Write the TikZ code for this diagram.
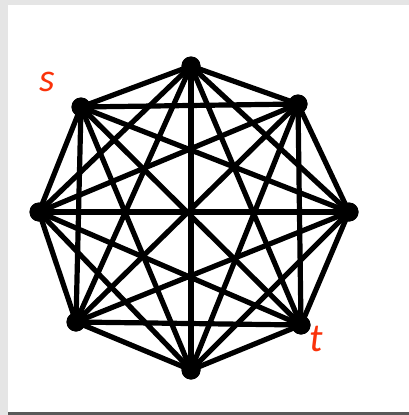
\documentclass[tikz,border=0pt]{standalone}
\usepackage{fontspec}
\setmainfont{Carlito}
\definecolor{lab}{RGB}{250,50,10}
\begin{document}
\begin{tikzpicture}[x=1pt,y=-1pt,
  vtx/.style={circle,fill=black,inner sep=0pt,minimum size=19pt},
  edge/.style={line width=5.2pt,black},
  lbl/.style={text=lab,font=\itshape\fontsize{40}{40}\selectfont,inner sep=0pt}]
\useasboundingbox (0,0) rectangle (409,415);
\fill[black!10] (0,0) rectangle (409,415);
\fill[white] (8,5) rectangle (409,412);
\fill[black!65] (8,412) rectangle (409,415);
\node[vtx] (a) at (191,66) {};
\node[vtx] (b) at (298,104) {};
\node[vtx] (c) at (349,212) {};
\node[vtx] (d) at (301,325) {};
\node[vtx] (e) at (191,370) {};
\node[vtx] (f) at (76,322) {};
\node[vtx] (g) at (39,212) {};
\node[vtx] (h) at (81,107) {};
\foreach \u/\v in {a/b,a/c,a/d,a/e,a/f,a/g,a/h,b/c,b/d,b/e,b/f,b/g,b/h,c/d,c/e,c/f,c/g,c/h,d/e,d/f,d/g,d/h,e/f,e/g,e/h,f/g,f/h,g/h}
  \draw[edge] (\u.center) -- (\v.center);
\foreach \n in {a,...,h} \fill (\n) circle (9.5pt);
\node[lbl] (s) at (47,82) {s};
\node[lbl] (t) at (316,339) {t};
\end{tikzpicture}
\end{document}
